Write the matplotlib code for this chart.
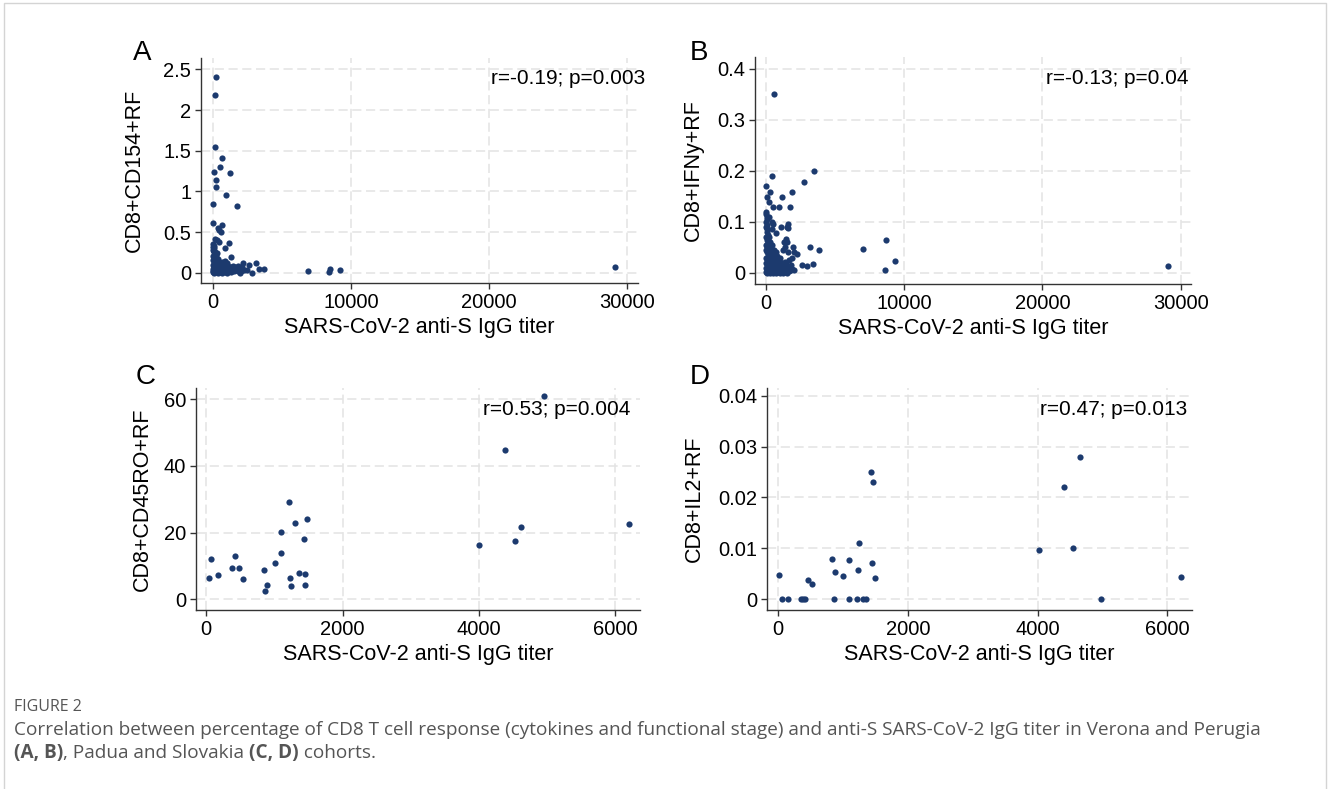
import matplotlib
matplotlib.use("Agg")
import matplotlib.pyplot as plt
from matplotlib.patches import Rectangle

plt.rcParams['font.family'] = ['Liberation Sans', 'DejaVu Sans']

# ---- data ----
# panel A: CD8+CD154+RF vs anti-S IgG titer
A_x = [241, 169, 169, 699, 554, 96, 1253, 265, 217, 940, 48, 1735, 0, 699, 386, 482,
       627, 313, 434, 20, 60, 1157, 868, 1301, 2217, 2627, 3157, 2500, 2868, 3325, 3711,
       6868, 8434, 8482, 9205, 29090,
       20, 60, 110, 150, 40, 90, 180, 250, 320, 30, 80, 130, 200, 270, 350, 420, 10, 60,
       110, 170, 230, 300, 380, 460, 540, 620, 20, 70, 120, 160, 210, 260, 330, 400, 480,
       560, 650, 740, 830, 920, 0, 50, 100, 150, 200, 280, 350, 430, 510, 600, 700, 790,
       880, 970, 1060, 1150, 1250, 1350, 1450, 1550, 1650, 1750, 1850, 1950, 2050, 1000,
       1100, 1200, 1300, 1400, 700, 800, 900, 1050, 1500, 1600, 1700, 1800, 1900, 10, 80,
       140, 200, 2300, 2150, 1950]
A_y = [2.41, 2.18, 1.54, 1.41, 1.30, 1.24, 1.23, 1.14, 1.05, 0.955, 0.85, 0.82, 0.61,
       0.59, 0.545, 0.525, 0.50, 0.40, 0.38, 0.35, 0.33, 0.36, 0.30, 0.197, 0.115, 0.09,
       0.115, 0.033, 0.0, 0.04, 0.045, 0.016, 0.004, 0.04, 0.037, 0.066,
       0.28, 0.25, 0.27, 0.22, 0.20, 0.19, 0.18, 0.21, 0.24, 0.15, 0.14, 0.16, 0.13, 0.15,
       0.17, 0.12, 0.10, 0.09, 0.11, 0.08, 0.10, 0.09, 0.10, 0.08, 0.11, 0.09, 0.05, 0.06,
       0.04, 0.06, 0.03, 0.05, 0.04, 0.06, 0.03, 0.05, 0.04, 0.06, 0.03, 0.05, 0.01, 0.02,
       0.0, 0.02, 0.01, 0.02, 0.0, 0.02, 0.01, 0.02, 0.0, 0.02, 0.01, 0.02, 0.0, 0.02,
       0.03, 0.01, 0.04, 0.02, 0.05, 0.03, 0.02, 0.05, 0.02, 0.06, 0.08, 0.05, 0.07, 0.06,
       0.13, 0.10, 0.14, 0.12, 0.08, 0.07, 0.06, 0.08, 0.07, 0.31, 0.30, 0.42, 0.26, 0.03,
       0.07, 0.0]

# panel B: CD8+IFNy+RF vs anti-S IgG titer
B_x = [564, 466, 3505, 2769, 0, 50, 294, 1862, 1176, 220, 515, 931, 1740, 20, 200, 60,
       1617, 1617, 466, 760, 1446, 1540, 3210, 3822, 7007, 8649, 9335, 8600, 2279, 2622,
       2940, 3430, 1936, 1911, 2000, 29100,
       0, 40, 100, 20, 80, 150, 220, 300, 30, 90, 160, 240, 330, 420, 10, 70, 130, 200,
       270, 350, 440, 520, 600, 700, 20, 80, 140, 210, 280, 360, 450, 540, 630, 720, 820,
       920, 1020, 0, 60, 120, 190, 260, 340, 420, 500, 590, 680, 770, 860, 950, 1050,
       1150, 1250, 1350, 1450, 30, 90, 150, 220, 300, 380, 460, 550, 640, 730, 830, 930,
       1030, 1130, 1230, 1330, 1430, 1530, 1630, 1730, 0, 70, 140, 210, 290, 370, 450,
       540, 630, 720, 810, 900, 1000, 1100, 1200, 1350, 1500, 1650, 1800, 0, 60, 30, 100,
       400, 500, 1100, 1500, 1300, 1400, 1200, 1600, 1900, 2050, 1700, 1800]
B_y = [0.350, 0.189, 0.199, 0.179, 0.170, 0.149, 0.159, 0.159, 0.149, 0.139, 0.130,
       0.130, 0.130, 0.119, 0.110, 0.093, 0.095, 0.088, 0.085, 0.079, 0.067, 0.061, 0.051,
       0.0445, 0.047, 0.064, 0.0236, 0.006, 0.037, 0.0157, 0.013, 0.0164, 0.05, 0.0065,
       0.005, 0.013,
       0.09, 0.08, 0.085, 0.07, 0.065, 0.075, 0.07, 0.06, 0.055, 0.05, 0.058, 0.052, 0.048,
       0.055, 0.045, 0.04, 0.043, 0.038, 0.042, 0.036, 0.04, 0.035, 0.045, 0.04, 0.03,
       0.028, 0.032, 0.025, 0.03, 0.027, 0.03, 0.025, 0.03, 0.027, 0.032, 0.025, 0.03,
       0.02, 0.018, 0.02, 0.015, 0.02, 0.016, 0.02, 0.014, 0.019, 0.015, 0.02, 0.016,
       0.02, 0.015, 0.02, 0.017, 0.022, 0.018, 0.01, 0.008, 0.011, 0.007, 0.01, 0.006,
       0.009, 0.005, 0.01, 0.006, 0.009, 0.005, 0.008, 0.004, 0.009, 0.006, 0.01, 0.005,
       0.008, 0.012, 0.002, 0.0, 0.003, 0.001, 0.0, 0.003, 0.001, 0.0, 0.002, 0.0, 0.003,
       0.001, 0.0, 0.002, 0.0, 0.001, 0.0, 0.004, 0.006, 0.1, 0.105, 0.115, 0.11, 0.1,
       0.095, 0.09, 0.09, 0.06, 0.05, 0.045, 0.04, 0.03, 0.04, 0.025, 0.015]

# panel C: CD8+CD45RO+RF vs anti-S IgG titer
C_x = [34, 64, 166, 377, 416, 474, 538, 851, 866, 885, 1002, 1090, 1100, 1213, 1223, 1247,
       1306, 1355, 1428, 1452, 1447, 1482, 4000, 4386, 4528, 4621, 4958, 6200]
C_y = [6.3, 12.0, 7.3, 9.4, 13.1, 9.3, 6.2, 8.7, 2.5, 4.3, 10.9, 13.8, 20.2, 29.2, 6.3,
       4.1, 22.8, 7.9, 18.0, 7.7, 4.3, 24.0, 16.4, 44.7, 17.5, 21.6, 61.0, 22.7]

# panel D: CD8+IL2+RF vs anti-S IgG titer
D_x = [21, 57, 154, 360, 391, 417, 463, 530, 839, 880, 860, 1004, 1097, 1091, 1225, 1210,
       1246, 1302, 1359, 1436, 1457, 1452, 1488, 4015, 4402, 4546, 4649, 4973, 6214]
D_y = [0.0048, 0, 0, 0, 0, 0, 0.0038, 0.0031, 0.0080, 0.0053, 0, 0.0045, 0.0078, 0,
       0.0058, 0, 0.0110, 0, 0, 0.0250, 0.0230, 0.0072, 0.0041, 0.0097, 0.0220, 0.0100,
       0.0280, 0, 0.0044]

panel_letters = ['A', 'B', 'C', 'D']
y_labels = ['CD8+CD154+RF', 'CD8+IFNy+RF', 'CD8+CD45RO+RF', 'CD8+IL2+RF']
x_label = 'SARS-CoV-2 anti-S IgG titer'
stats = ['r=-0.19; p=0.003', 'r=-0.13; p=0.04', 'r=0.53; p=0.004', 'r=0.47; p=0.013']
x_ticks_AB = [0, 10000, 20000, 30000]
x_ticks_CD = [0, 2000, 4000, 6000]
y_ticks = [[0, 0.5, 1, 1.5, 2, 2.5], [0, 0.1, 0.2, 0.3, 0.4],
           [0, 20, 40, 60], [0, 0.01, 0.02, 0.03, 0.04]]
y_ticklabels = [['0', '0.5', '1', '1.5', '2', '2.5'], ['0', '0.1', '0.2', '0.3', '0.4'],
                ['0', '20', '40', '60'], ['0', '0.01', '0.02', '0.03', '0.04']]
caption_title = 'FIGURE 2'
caption_line1 = ('Correlation between percentage of CD8 T cell response (cytokines and '
                 'functional stage) and anti-S SARS-CoV-2 IgG titer in Verona and Perugia')
# (text, bold?) pieces of the second caption line
caption_line2 = [('(A, B)', True), (', Padua and Slovakia', False), (' ', False),
                 ('(C, D)', True), (' cohorts.', False)]

W, H = 1328, 789
fig = plt.figure(figsize=(W / 100, H / 100), dpi=100)


def fx(px):
    return px / W


def fy(py):
    return 1 - py / H


# axes boxes in pixels: left, right, top, bottom
boxes = [(201, 638, 58, 283), (755, 1191, 57, 284), (196, 640, 388, 610), (767, 1192, 388, 610)]
xlims = [(-846, 30770), (-795, 30750), (-151, 6364), (-170, 6380)]
ylims = [(-0.127, 2.64), (-0.022, 0.4235), (-3.2, 63.4), (-0.0021, 0.0415)]
xs = [A_x, B_x, C_x, D_x]
ys = [A_y, B_y, C_y, D_y]
letter_pos = [(142, 53), (699, 53), (146, 377), (700, 377)]
stat_pos = [(645, 84), (1188, 84), (630, 415), (1187, 415)]
ylab_pad = [13.5, 10, 8, 9.5]

navy = '#1c3a6e'
for i in range(4):
    l, r, t, b = boxes[i]
    ax = fig.add_axes([fx(l), fy(b), (r - l) / W, (b - t) / H])
    ax.scatter(xs[i], ys[i], s=20, color=navy, linewidths=0, zorder=3)
    ax.set_xlim(*xlims[i])
    ax.set_ylim(*ylims[i])
    ax.set_xticks(x_ticks_AB if i < 2 else x_ticks_CD)
    ax.set_yticks(y_ticks[i])
    ax.set_yticklabels(y_ticklabels[i])
    ax.grid(True, color='#e3e3e3', linestyle=(0, (6, 3)), linewidth=1.1)
    ax.set_axisbelow(True)
    for s in ['top', 'right']:
        ax.spines[s].set_visible(False)
    for s in ['left', 'bottom']:
        ax.spines[s].set_color('#333333')
        ax.spines[s].set_linewidth(1.0)
    ax.tick_params(direction='out', length=4, width=1, color='#333333',
                   labelsize=14.5, pad=3)
    ax.set_xlabel(x_label, fontsize=15.5, labelpad=4)
    ax.set_ylabel(y_labels[i], fontsize=15.5, labelpad=ylab_pad[i])
    fig.text(fx(letter_pos[i][0]), fy(letter_pos[i][1]), panel_letters[i],
             fontsize=20, ha='center', va='center')
    fig.text(fx(stat_pos[i][0]), fy(stat_pos[i][1]), stats[i], fontsize=15,
             ha='right', va='baseline')

# caption
cap = dict(color='#555555', family='Open Sans', va='baseline')
fig.text(fx(14), fy(711), caption_title, fontsize=11.5, **cap)
fig.text(fx(14), fy(735), caption_line1, fontsize=13.7, **cap)

renderer = fig.canvas.get_renderer()


def text_width(s, bold):
    # width of s in pixels, spaces counted via a pair of dots around it
    t = fig.text(0, 0, '.' + s + '.', fontsize=13.7, weight='bold' if bold else 'normal', **cap)
    d = fig.text(0, 0, '..', fontsize=13.7, weight='bold' if bold else 'normal', **cap)
    w = t.get_window_extent(renderer).width - d.get_window_extent(renderer).width
    t.remove()
    d.remove()
    return w


x = 14
for s, bold in caption_line2:
    if s.strip():
        fig.text(fx(x), fy(758), s, fontsize=13.7, weight='bold' if bold else 'normal', **cap)
    x += text_width(s, bold)

fig.patches.append(Rectangle((fx(4), -0.02), fx(1326) - fx(4), fy(3) + 0.02,
                             transform=fig.transFigure, fill=False,
                             edgecolor='#d4d4d4', linewidth=1))

fig.savefig('out.png', dpi=100)
